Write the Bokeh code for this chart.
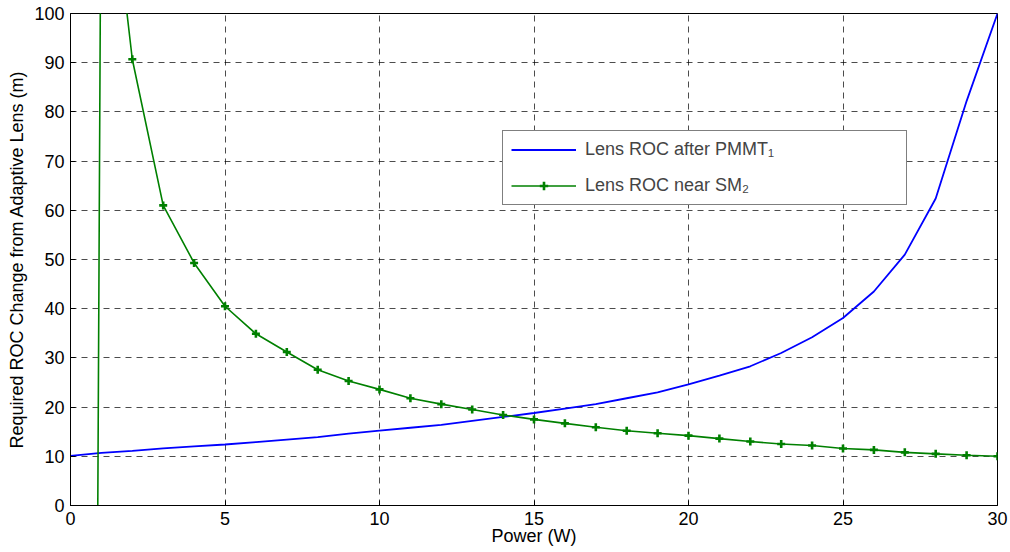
from bokeh.plotting import figure
from bokeh.models import Range1d, FixedTicker, Legend, LegendItem
from bokeh.embed import file_html
from bokeh.resources import INLINE

# ---- data ----
power_w = list(range(0, 31))
roc_after_pmmt1 = [10.1, 10.7, 11.1, 11.6, 12.0, 12.4, 12.9, 13.4, 13.9, 14.6,
                   15.2, 15.8, 16.4, 17.2, 18.0, 18.8, 19.7, 20.6, 21.8, 23.0,
                   24.6, 26.4, 28.3, 31.0, 34.2, 38.1, 43.5, 51.0, 62.4, 82.2,
                   100.0]
roc_near_sm2 = [-1100.0, 145.0, 90.7, 61.0, 49.3, 40.5, 34.9, 31.2, 27.6, 25.3,
                23.6, 21.8, 20.6, 19.5, 18.4, 17.5, 16.7, 15.9, 15.2, 14.7,
                14.2, 13.6, 13.0, 12.5, 12.2, 11.6, 11.3, 10.8, 10.5, 10.2,
                10.0]
x_ticks = [0, 5, 10, 15, 20, 25, 30]
y_ticks = [0, 10, 20, 30, 40, 50, 60, 70, 80, 90, 100]
series_labels = ["Lens ROC after PMMT\u2081", "Lens ROC near SM\u2082"]
x_label = "Power (W)"
y_label = "Required ROC Change from Adaptive Lens (m)"

FONT = "Liberation Sans"

p = figure(width=1010, height=552,
           min_border_left=70, min_border_right=13,
           min_border_top=13, min_border_bottom=47,
           x_range=Range1d(0, 30), y_range=Range1d(0, 100),
           output_backend="svg", toolbar_location=None,
           background_fill_color="white", border_fill_color="white")
p.outline_line_color = "black"
p.outline_line_width = 1

for ax in (p.xaxis[0], p.yaxis[0]):
    ax.major_tick_in = 5
    ax.major_tick_out = 0
    ax.minor_tick_line_color = None
    ax.axis_line_color = "black"
    ax.major_tick_line_color = "black"
    ax.major_label_text_font = FONT
    ax.major_label_text_font_size = "18px"
    ax.major_label_text_color = "black"
    ax.axis_label_text_font = FONT
    ax.axis_label_text_font_size = "18px"
    ax.axis_label_text_font_style = "normal"
    ax.axis_label_text_color = "black"

p.xaxis[0].ticker = FixedTicker(ticks=x_ticks)
p.yaxis[0].ticker = FixedTicker(ticks=y_ticks)
p.xaxis[0].axis_label = x_label
p.yaxis[0].axis_label = y_label
p.xaxis[0].major_label_standoff = 6
p.yaxis[0].major_label_standoff = 6
p.xaxis[0].axis_label_standoff = -2
p.yaxis[0].axis_label_standoff = 4

for g in (p.xgrid[0], p.ygrid[0]):
    g.grid_line_color = "black"
    g.grid_line_alpha = 0.7
    g.grid_line_dash = "6 5"
    g.grid_line_width = 1
p.xgrid[0].ticker = FixedTicker(ticks=x_ticks)
p.ygrid[0].ticker = FixedTicker(ticks=y_ticks)

blue = p.line(power_w, roc_after_pmmt1, line_color="#0000ff", line_width=1.8)
green = p.line(power_w, roc_near_sm2, line_color="#008000", line_width=1.6)
green_m = p.scatter(power_w, roc_near_sm2, marker="cross", size=8,
                    line_color="#008000", line_width=2.6)

legend = Legend(items=[LegendItem(label=series_labels[0], renderers=[blue]),
                       LegendItem(label=series_labels[1], renderers=[green, green_m])],
                location=(432, 300), orientation="vertical",
                border_line_color="black", border_line_width=1,
                background_fill_color="white", background_fill_alpha=1,
                label_text_font=FONT, label_text_font_size="18px",
                glyph_width=65, glyph_height=21, label_height=21,
                spacing=15, padding=8, label_standoff=9, label_width=313,
                margin=0)
p.add_layout(legend)

open("out.html", "w").write(file_html(p, INLINE))
